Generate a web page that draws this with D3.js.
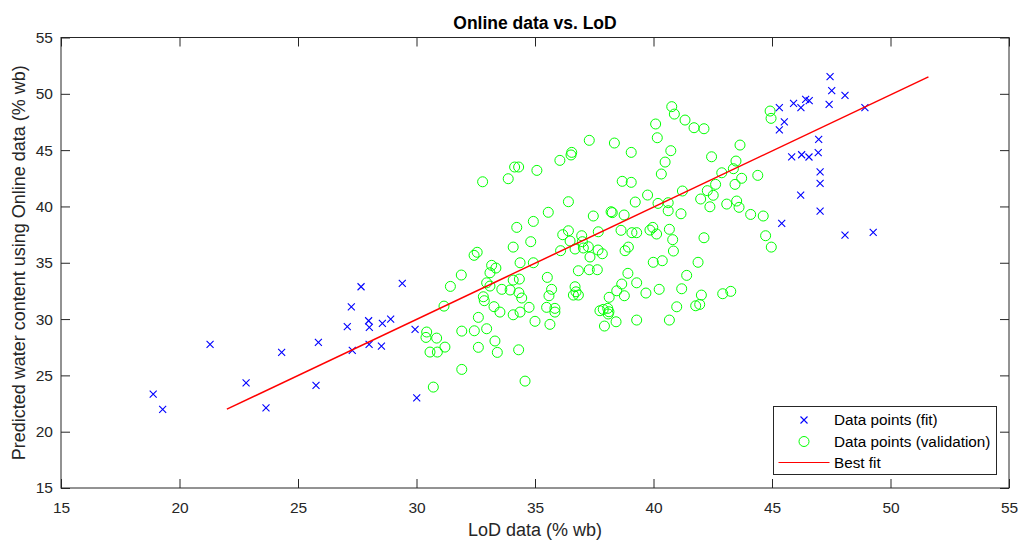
<!DOCTYPE html>
<html>
<head>
<meta charset="utf-8">
<script src="https://cdn.jsdelivr.net/npm/d3@7"></script>
<style>
  html, body { margin: 0; padding: 0; background: #ffffff; }
  svg { display: block; font-family: "Liberation Sans", Arial, Helvetica, sans-serif; }
</style>
</head>
<body>
<svg id="chart" width="1021" height="540"></svg>
<script>
// Fit set: [LoD, predicted]
const fitPoints = [
  [18.89, 23.34], [19.29, 21.98], [21.29, 27.75], [22.81, 24.34], [23.65, 22.12],
  [24.31, 27.04], [25.86, 27.93], [25.76, 24.11], [27.08, 29.32], [27.25, 31.09],
  [27.29, 27.22], [27.66, 32.87], [29.40, 33.17], [27.98, 29.85], [28.01, 29.26],
  [28.56, 29.62], [28.91, 30.00], [29.94, 29.08], [28.00, 27.75], [28.52, 27.60],
  [30.01, 23.01],
  [47.45, 51.52], [47.52, 50.28], [48.08, 49.87], [47.41, 49.07], [48.92, 48.77],
  [45.31, 48.77], [45.91, 49.16], [46.22, 48.77], [46.42, 49.51], [46.57, 49.39],
  [45.52, 47.50], [45.31, 46.79], [46.97, 45.96], [45.83, 44.41], [46.25, 44.59],
  [46.56, 44.39], [46.95, 44.77], [47.03, 43.06], [47.03, 42.05], [46.21, 41.01],
  [47.03, 39.59], [45.41, 38.50], [48.08, 37.46], [49.27, 37.70]
];

// Validation set: [LoD, predicted]
const validationPoints = [
  [31.43, 32.90], [31.16, 31.15], [30.43, 28.85], [30.40, 28.37], [30.85, 28.31],
  [31.20, 27.51], [30.57, 27.07], [30.88, 27.07], [31.91, 25.53], [30.71, 23.96],
  [36.55, 44.80], [36.52, 44.57], [36.05, 44.09], [34.14, 43.50], [34.31, 43.50],
  [35.08, 43.20], [32.79, 42.19], [33.87, 42.46], [36.41, 40.42], [35.56, 39.48],
  [34.93, 38.67], [34.23, 38.14], [34.82, 36.87], [34.08, 36.39], [36.17, 37.49],
  [36.41, 37.84], [36.48, 36.93], [36.69, 36.22], [36.08, 36.07], [32.56, 35.93],
  [32.43, 35.66], [31.89, 33.91], [34.37, 35.00], [34.93, 35.00], [33.17, 34.77],
  [33.35, 34.53], [33.10, 34.11], [34.08, 33.46], [34.34, 33.55], [35.52, 33.70],
  [32.96, 33.22], [33.10, 32.93], [33.60, 32.64], [33.95, 32.58], [34.32, 32.34],
  [32.82, 31.98], [32.86, 31.63], [34.44, 31.87], [35.70, 32.64], [35.59, 32.07],
  [33.27, 31.10], [33.52, 30.62], [34.08, 30.38], [34.37, 30.62], [34.75, 31.04],
  [35.49, 31.04], [35.84, 30.95], [35.84, 30.62], [32.61, 30.15], [35.00, 29.80],
  [35.63, 29.53], [31.91, 28.93], [32.44, 28.96], [32.96, 29.14], [33.31, 28.05],
  [32.61, 27.49], [33.41, 27.04], [34.31, 27.27], [34.58, 24.49],
  [40.77, 48.86], [40.88, 48.20], [41.33, 47.67], [41.71, 46.99], [40.09, 47.32],
  [40.16, 46.10], [37.29, 45.87], [38.35, 45.63], [39.06, 44.80], [40.73, 44.95],
  [40.49, 43.94], [40.33, 42.88], [38.68, 42.23], [39.06, 42.14], [39.75, 41.01],
  [39.23, 40.39], [40.19, 40.27], [40.62, 40.33], [40.62, 39.62], [41.16, 39.35],
  [41.22, 41.37], [38.21, 39.53], [38.26, 39.45], [38.76, 39.24], [37.46, 39.15],
  [37.67, 37.75], [38.63, 37.88], [39.09, 37.67], [39.29, 37.67], [39.85, 37.90],
  [39.97, 38.14], [40.13, 37.55], [40.67, 37.97], [40.81, 37.05], [40.84, 36.04],
  [36.97, 37.40], [37.00, 36.87], [37.04, 36.31], [37.25, 36.42], [37.32, 35.51],
  [37.66, 36.13], [37.84, 35.80], [38.80, 36.07], [38.94, 36.39], [36.83, 34.29],
  [37.29, 34.38], [37.63, 34.38], [39.99, 35.04], [40.37, 35.18], [38.92, 34.06],
  [38.66, 33.11], [39.29, 33.22], [38.45, 32.51], [38.77, 32.07], [38.13, 31.93],
  [39.68, 32.31], [40.24, 32.64], [41.40, 33.88], [41.19, 32.69], [40.98, 31.09],
  [40.67, 29.91], [39.29, 29.91], [38.42, 29.76], [37.93, 29.38], [37.74, 30.74],
  [37.88, 30.86], [38.07, 30.95], [38.12, 30.65], [38.09, 30.45],
  [36.62, 32.13], [36.73, 32.42], [36.83, 32.13], [36.69, 32.87],
  [44.92, 48.47], [44.96, 47.82], [42.13, 46.90], [43.65, 45.45], [42.45, 44.41],
  [43.48, 44.03], [43.37, 43.35], [42.88, 42.99], [44.40, 42.76], [43.72, 42.50],
  [43.44, 41.96], [42.62, 41.96], [42.27, 41.40], [42.52, 40.99], [41.99, 40.66],
  [43.51, 40.48], [43.09, 40.21], [43.61, 39.92], [42.38, 39.97], [44.10, 39.29],
  [44.63, 39.15], [44.73, 37.40], [44.97, 36.39], [42.13, 37.22], [41.88, 35.04],
  [42.02, 32.13], [41.78, 31.18], [41.95, 31.30], [42.92, 32.25], [43.26, 32.46]
];

// Best-fit line end points
const bestFitX = [22.0, 51.6];
const bestFitY = [22.0, 51.5];

const xTicks = [15, 20, 25, 30, 35, 40, 45, 50, 55];
const yTicks = [15, 20, 25, 30, 35, 40, 45, 50, 55];

const legendLabels = ["Data points (fit)", "Data points (validation)", "Best fit"];

const margin = { left: 61, right: 12, top: 37.5, bottom: 52 };
const W = 1021, H = 540;
const iw = W - margin.left - margin.right;
const ih = H - margin.top - margin.bottom;
const ink = "#262626";

const svg = d3.select("#chart");
const g = svg.append("g").attr("transform", `translate(${margin.left},${margin.top})`);

const x = d3.scaleLinear().domain([15, 55]).range([0, iw]);
const y = d3.scaleLinear().domain([15, 55]).range([ih, 0]);

// Axes with inward ticks, mirrored on top and right
const tickLen = 9;
function styleAxis(sel) {
  sel.select(".domain").remove();
  sel.selectAll(".tick line").attr("stroke", ink);
  sel.selectAll(".tick text").attr("fill", ink).style("font-size", "15.5px");
}
g.append("g").attr("transform", `translate(0,${ih})`)
  .call(d3.axisBottom(x).tickValues(xTicks).tickSizeInner(-tickLen).tickSizeOuter(0).tickPadding(14))
  .call(styleAxis);
g.append("g")
  .call(d3.axisLeft(y).tickValues(yTicks).tickSizeInner(-tickLen).tickSizeOuter(0).tickPadding(8))
  .call(styleAxis);
g.append("g")
  .call(d3.axisTop(x).tickValues(xTicks).tickSizeInner(-tickLen).tickSizeOuter(0).tickFormat(""))
  .call(styleAxis);
g.append("g").attr("transform", `translate(${iw},0)`)
  .call(d3.axisRight(y).tickValues(yTicks).tickSizeInner(-tickLen).tickSizeOuter(0).tickFormat(""))
  .call(styleAxis);

g.append("rect")
  .attr("x", 0).attr("y", 0).attr("width", iw).attr("height", ih)
  .attr("fill", "none").attr("stroke", ink).attr("stroke-width", 1);

// Validation circles
g.append("g").selectAll("circle")
  .data(validationPoints).join("circle")
  .attr("cx", d => x(d[0])).attr("cy", d => y(d[1])).attr("r", 5)
  .attr("fill", "none").attr("stroke", "#00ff00").attr("stroke-width", 1);

// Fit crosses
const xs = 3.5;
const cross = (cx, cy) => `M${cx - xs},${cy - xs}L${cx + xs},${cy + xs}M${cx - xs},${cy + xs}L${cx + xs},${cy - xs}`;
g.append("g").selectAll("path")
  .data(fitPoints).join("path")
  .attr("d", d => cross(x(d[0]), y(d[1])))
  .attr("stroke", "#0000ff").attr("stroke-width", 1.1).attr("fill", "none");

// Best-fit line
const lineData = bestFitX.map((v, i) => [v, bestFitY[i]]);
g.append("path")
  .datum(lineData)
  .attr("d", d3.line().x(d => x(d[0])).y(d => y(d[1])))
  .attr("stroke", "#ff0000").attr("stroke-width", 1.5).attr("fill", "none");

// Title and axis labels
svg.append("text")
  .attr("x", margin.left + iw / 2).attr("y", 29)
  .attr("text-anchor", "middle").attr("fill", "#000")
  .style("font-size", "17.5px").style("font-weight", "bold")
  .text("Online data vs. LoD");
svg.append("text")
  .attr("x", margin.left + iw / 2).attr("y", 536)
  .attr("text-anchor", "middle").attr("fill", ink)
  .style("font-size", "18px")
  .text("LoD data (% wb)");
svg.append("text")
  .attr("transform", `translate(25,${margin.top + ih / 2}) rotate(-90)`)
  .attr("text-anchor", "middle").attr("fill", ink)
  .style("font-size", "18px")
  .text("Predicted water content using Online data (% wb)");

// Legend
const lg = svg.append("g").attr("transform", "translate(773.5,406.5)");
lg.append("rect").attr("width", 223).attr("height", 68)
  .attr("fill", "#fff").attr("stroke", ink).attr("stroke-width", 1);
const rowY = [13.5, 35, 56];
lg.append("path").attr("d", cross(30.5, rowY[0]))
  .attr("stroke", "#0000ff").attr("stroke-width", 1.1).attr("fill", "none");
lg.append("circle").attr("cx", 30.5).attr("cy", rowY[1]).attr("r", 5)
  .attr("fill", "none").attr("stroke", "#00ff00");
lg.append("line").attr("x1", 5).attr("x2", 56).attr("y1", rowY[2]).attr("y2", rowY[2])
  .attr("stroke", "#ff0000").attr("stroke-width", 1);
lg.selectAll("text.lab").data(legendLabels).join("text")
  .attr("class", "lab")
  .attr("x", 60.5).attr("y", (d, i) => rowY[i]).attr("dy", "0.35em")
  .attr("fill", "#000").style("font-size", "15.3px")
  .text(d => d);
</script>
</body>
</html>
